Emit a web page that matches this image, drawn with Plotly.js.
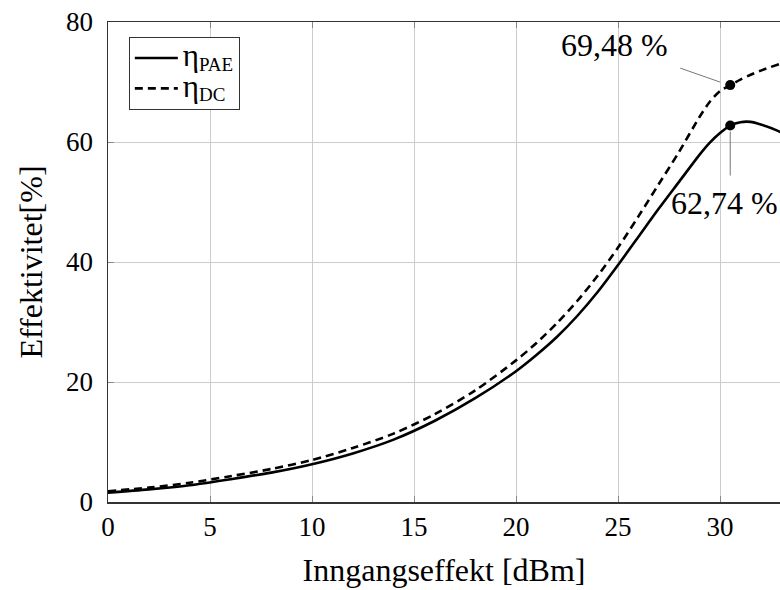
<!DOCTYPE html>
<html>
<head>
<meta charset="utf-8">
<script src="https://cdn.plot.ly/plotly-3.0.1.min.js"></script>
<style>html,body{margin:0;padding:0;background:#fff;}#chart{width:780px;height:590px;}</style>
</head>
<body>
<div id="chart"></div>
<script>
// Input power [dBm]
const pin = [0,2,4,6,8,10,12,14,16,18,20,21,22,23,24,25,26,27,28,29,29.5,30,30.5,31,31.5,32,33,33.5];
// Power-added efficiency [%]
const etaPAE = [1.55,2.1,2.8,3.8,4.9,6.3,8.1,10.4,13.5,17.3,21.8,24.5,27.5,31.0,35.0,39.5,44.2,48.9,53.4,57.9,59.9,61.5,62.74,63.3,63.35,62.9,61.6,60.6];
// Drain efficiency [%]
const etaDC = [1.8,2.4,3.2,4.3,5.5,7.0,9.0,11.4,14.6,18.6,23.6,26.5,29.8,33.5,37.7,42.4,47.6,53.0,58.4,64.2,66.7,68.5,69.48,70.4,71.2,71.9,73.1,73.6];
// Marked points
const markX = [30.5];
const markPAE = [62.74];
const markDC = [69.48];
const xTicks = [0,5,10,15,20,25,30];
const yTicks = [0,20,40,60,80];
const seriesNames = ['PAE', 'DC'];

const fmt = v => v.toFixed(2).replace('.', ',') + ' %';
const serif = '"Liberation Serif", "Times New Roman", serif';
const legName = s => '<span style="font-size:31px">η</span><sub><span style="font-size:19px">' + s + '</span></sub>';

const traces = [
  {x: pin, y: etaPAE, mode: 'lines', name: legName(seriesNames[0]),
   line: {color: '#000', width: 2.6, shape: 'spline', smoothing: 0.8}},
  {x: pin, y: etaDC, mode: 'lines', name: legName(seriesNames[1]),
   line: {color: '#000', width: 2.6, dash: '8px,5px', shape: 'spline', smoothing: 0.8}},
  {x: markX, y: markDC, mode: 'markers', showlegend: false,
   marker: {color: '#000', size: 10}},
  {x: markX, y: markPAE, mode: 'markers', showlegend: false,
   marker: {color: '#000', size: 10}}
];

const layout = {
  width: 780, height: 590,
  margin: {l: 108, r: 0, t: 22, b: 88},
  paper_bgcolor: '#fff', plot_bgcolor: '#fff',
  font: {family: serif, color: '#000', size: 27},
  showlegend: true,
  legend: {x: 0.031, y: 0.969, xanchor: 'left', yanchor: 'top',
    bordercolor: '#333', borderwidth: 1, bgcolor: '#fff',
    font: {family: serif, size: 21}, tracegroupgap: 0, itemwidth: 43},
  xaxis: {range: [0, 32.94], tickvals: xTicks, ticktext: xTicks.map(String),
    showgrid: true, gridcolor: '#cccccc', gridwidth: 1,
    zeroline: false, showline: true, linecolor: '#333', linewidth: 1.5,
    mirror: 'allticks', ticks: 'inside', ticklen: 6, tickcolor: '#888',
    tickfont: {family: serif, size: 27},
    title: {text: 'Inngangseffekt [dBm]', font: {family: serif, size: 32}, standoff: 17}},
  yaxis: {range: [0, 80], tickvals: yTicks, ticktext: yTicks.map(String),
    showgrid: true, gridcolor: '#cccccc', gridwidth: 1,
    zeroline: false, showline: true, linecolor: '#333', linewidth: 1.5,
    mirror: false, ticks: 'inside', ticklen: 6, tickcolor: '#888',
    tickfont: {family: serif, size: 27}, ticklabelstandoff: 8,
    title: {text: 'Effektivitet[%]', font: {family: serif, size: 32}, standoff: 14}},
  annotations: [
    {x: markX[0], y: markDC[0], xref: 'x', yref: 'y', text: fmt(markDC[0]),
     showarrow: false, xshift: -116, yshift: 40, font: {family: serif, size: 32}},
    {x: markX[0], y: markPAE[0], xref: 'x', yref: 'y', text: fmt(markPAE[0]),
     showarrow: false, xshift: -6, yshift: -77, font: {family: serif, size: 32}}
  ],
  shapes: [
    {type: 'line', xref: 'x', yref: 'y', xsizemode: 'pixel', ysizemode: 'pixel',
     xanchor: markX[0], yanchor: markDC[0], x0: -50, y0: 17, x1: -10, y1: 3,
     line: {color: '#777', width: 1}},
    {type: 'line', xref: 'x', yref: 'y', xsizemode: 'pixel', ysizemode: 'pixel',
     xanchor: markX[0], yanchor: markPAE[0], x0: 0, y0: -6, x1: 0, y1: -50,
     line: {color: '#777', width: 1}}
  ]
};

Plotly.newPlot('chart', traces, layout, {displayModeBar: false, staticPlot: true});
</script>
</body>
</html>
